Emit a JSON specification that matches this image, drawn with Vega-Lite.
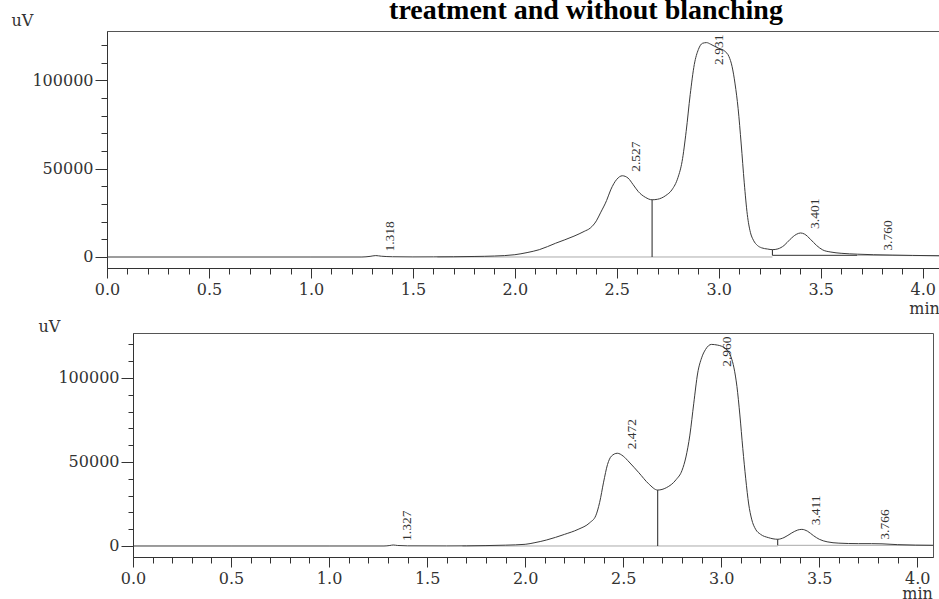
{
  "$schema": "https://vega.github.io/schema/vega-lite/v6.json",
  "padding": {"left": 10, "top": -4, "right": 0, "bottom": 0},
  "background": "white",
  "datasets": {
    "traceA": [
      {"t": 0.0, "v": 0}, {"t": 0.5, "v": 0}, {"t": 1.0, "v": 0}, {"t": 1.25, "v": 0},
      {"t": 1.29, "v": 350}, {"t": 1.318, "v": 800}, {"t": 1.345, "v": 450}, {"t": 1.4, "v": 150},
      {"t": 1.5, "v": 50}, {"t": 1.6, "v": 80}, {"t": 1.7, "v": 150}, {"t": 1.8, "v": 300},
      {"t": 1.9, "v": 550}, {"t": 2.0, "v": 1300}, {"t": 2.06, "v": 2500}, {"t": 2.12, "v": 4150},
      {"t": 2.2, "v": 7800}, {"t": 2.29, "v": 11800}, {"t": 2.34, "v": 14500}, {"t": 2.37, "v": 16400},
      {"t": 2.4, "v": 20500}, {"t": 2.42, "v": 25000}, {"t": 2.45, "v": 32000}, {"t": 2.47, "v": 38000},
      {"t": 2.5, "v": 44000}, {"t": 2.527, "v": 46000}, {"t": 2.555, "v": 44700}, {"t": 2.58, "v": 41000},
      {"t": 2.605, "v": 37100}, {"t": 2.64, "v": 33800}, {"t": 2.673, "v": 32400}, {"t": 2.70, "v": 32700},
      {"t": 2.74, "v": 34800}, {"t": 2.77, "v": 38000}, {"t": 2.80, "v": 45000}, {"t": 2.82, "v": 54000},
      {"t": 2.84, "v": 71000}, {"t": 2.86, "v": 92000}, {"t": 2.88, "v": 109000}, {"t": 2.90, "v": 117500},
      {"t": 2.92, "v": 121000}, {"t": 2.94, "v": 121400}, {"t": 2.96, "v": 120500}, {"t": 2.98, "v": 119300},
      {"t": 3.0, "v": 118200}, {"t": 3.03, "v": 116500}, {"t": 3.05, "v": 113500}, {"t": 3.065, "v": 108000},
      {"t": 3.08, "v": 98000}, {"t": 3.095, "v": 84000}, {"t": 3.11, "v": 64000}, {"t": 3.125, "v": 42000},
      {"t": 3.14, "v": 24000}, {"t": 3.155, "v": 14000}, {"t": 3.17, "v": 9500}, {"t": 3.19, "v": 6500},
      {"t": 3.21, "v": 5200}, {"t": 3.24, "v": 4500}, {"t": 3.263, "v": 4150}, {"t": 3.29, "v": 4600},
      {"t": 3.32, "v": 6500}, {"t": 3.35, "v": 10000}, {"t": 3.38, "v": 12800}, {"t": 3.401, "v": 13600},
      {"t": 3.42, "v": 13000}, {"t": 3.45, "v": 10000}, {"t": 3.48, "v": 6500}, {"t": 3.51, "v": 4000},
      {"t": 3.55, "v": 2800}, {"t": 3.6, "v": 2100}, {"t": 3.68, "v": 1600}, {"t": 3.76, "v": 1300},
      {"t": 3.85, "v": 1100}, {"t": 3.95, "v": 900}, {"t": 4.08, "v": 700}
    ],
    "traceB": [
      {"t": 0.0, "v": 0}, {"t": 0.5, "v": 0}, {"t": 1.0, "v": 0}, {"t": 1.28, "v": 0},
      {"t": 1.31, "v": 300}, {"t": 1.327, "v": 600}, {"t": 1.35, "v": 300}, {"t": 1.4, "v": 100},
      {"t": 1.6, "v": 50}, {"t": 1.7, "v": 100}, {"t": 1.8, "v": 250}, {"t": 1.9, "v": 500},
      {"t": 2.0, "v": 1000}, {"t": 2.05, "v": 2000}, {"t": 2.11, "v": 3600}, {"t": 2.2, "v": 6900},
      {"t": 2.27, "v": 9900}, {"t": 2.33, "v": 13900}, {"t": 2.36, "v": 18000}, {"t": 2.38, "v": 26000},
      {"t": 2.40, "v": 38000}, {"t": 2.42, "v": 48500}, {"t": 2.44, "v": 53500}, {"t": 2.47, "v": 55200},
      {"t": 2.50, "v": 53500}, {"t": 2.53, "v": 50000}, {"t": 2.58, "v": 43600}, {"t": 2.63, "v": 37000},
      {"t": 2.676, "v": 33300}, {"t": 2.72, "v": 34700}, {"t": 2.77, "v": 39500}, {"t": 2.80, "v": 45000},
      {"t": 2.82, "v": 53000}, {"t": 2.84, "v": 66000}, {"t": 2.86, "v": 85000}, {"t": 2.88, "v": 103000},
      {"t": 2.90, "v": 112000}, {"t": 2.92, "v": 117000}, {"t": 2.95, "v": 120000}, {"t": 2.98, "v": 119600},
      {"t": 3.0, "v": 119000}, {"t": 3.03, "v": 116500}, {"t": 3.05, "v": 112500}, {"t": 3.065, "v": 106000},
      {"t": 3.08, "v": 95000}, {"t": 3.095, "v": 78000}, {"t": 3.11, "v": 58000}, {"t": 3.125, "v": 40000},
      {"t": 3.14, "v": 25000}, {"t": 3.155, "v": 16000}, {"t": 3.175, "v": 10000}, {"t": 3.2, "v": 7000},
      {"t": 3.24, "v": 5000}, {"t": 3.288, "v": 4000}, {"t": 3.32, "v": 5000}, {"t": 3.36, "v": 7800},
      {"t": 3.39, "v": 9500}, {"t": 3.411, "v": 9900}, {"t": 3.44, "v": 8800}, {"t": 3.47, "v": 6200},
      {"t": 3.5, "v": 4000}, {"t": 3.54, "v": 2500}, {"t": 3.6, "v": 1700}, {"t": 3.7, "v": 1400},
      {"t": 3.766, "v": 1400}, {"t": 3.82, "v": 1300}, {"t": 3.9, "v": 800}, {"t": 4.08, "v": 400}
    ],
    "segA": [
      {"kind": "base", "t": 1.62, "v": 0, "t2": 3.263, "v2": 0},
      {"kind": "seg", "t": 3.263, "v": 950, "t2": 3.68, "v2": 950},
      {"kind": "base", "t": 3.68, "v": 950, "t2": 4.08, "v2": 700},
      {"kind": "drop", "t": 2.673, "v": 0, "t2": 2.673, "v2": 32400},
      {"kind": "drop", "t": 3.263, "v": 950, "t2": 3.263, "v2": 4150}
    ],
    "segB": [
      {"kind": "base", "t": 1.68, "v": 0, "t2": 3.288, "v2": 0},
      {"kind": "base", "t": 3.288, "v": 400, "t2": 4.08, "v2": 400},
      {"kind": "drop", "t": 2.676, "v": 0, "t2": 2.676, "v2": 33300},
      {"kind": "drop", "t": 3.288, "v": 400, "t2": 3.288, "v2": 4000}
    ],
    "labelsA": [
      {"label": "1.318", "t": 1.318, "v": 800, "place": "above"},
      {"label": "2.527", "t": 2.527, "v": 46000, "place": "above"},
      {"label": "2.931", "t": 2.931, "v": 121400, "place": "inside"},
      {"label": "3.401", "t": 3.401, "v": 13600, "place": "above"},
      {"label": "3.760", "t": 3.76, "v": 1300, "place": "above"}
    ],
    "labelsB": [
      {"label": "1.327", "t": 1.327, "v": 600, "place": "above"},
      {"label": "2.472", "t": 2.472, "v": 55200, "place": "above"},
      {"label": "2.960", "t": 2.96, "v": 120000, "place": "inside"},
      {"label": "3.411", "t": 3.411, "v": 9900, "place": "above"},
      {"label": "3.766", "t": 3.766, "v": 1400, "place": "above"}
    ]
  },
  "spacing": 65,
  "bounds": "flush",
  "vconcat": [
    {
      "width": 832,
      "height": 237,
      "title": {"text": "treatment and without blanching", "anchor": "middle", "frame": "group", "dx": 63, "offset": -35, "baseline": "alphabetic", "font": "Liberation Serif", "fontSize": 28, "fontWeight": "bold", "color": "#000"},
      "encoding": {
        "x": {"field": "t", "type": "quantitative", "scale": {"domain": [0, 4.08], "nice": false, "zero": false},
          "axis": {"title": "min", "values": [0,0.1,0.2,0.3,0.4,0.5,0.6,0.7,0.8,0.9,1,1.1,1.2,1.3,1.4,1.5,1.6,1.7,1.8,1.9,2,2.1,2.2,2.3,2.4,2.5,2.6,2.7,2.8,2.9,3,3.1,3.2,3.3,3.4,3.5,3.6,3.7,3.8,3.9,4],
            "labelExpr": "round(datum.value*10) % 5 == 0 ? format(datum.value, '.1f') : ''",
            "tickSize": {"condition": {"test": "round(datum.value*10) % 5 == 0", "value": 10}, "value": 6},
            "labelPadding": 3, "labelFlush": false, "labelOverlap": false,
            "titleX": 817, "titleY": 45, "titleAlign": "center", "titleBaseline": "alphabetic"}},
        "y": {"field": "v", "type": "quantitative", "scale": {"domain": [-6229, 127973], "nice": false, "zero": false},
          "axis": {"title": "uV", "values": [0,10000,20000,30000,40000,50000,60000,70000,80000,90000,100000,110000,120000],
            "labelExpr": "datum.value % 50000 == 0 ? format(datum.value, 'd') : ''",
            "tickSize": {"condition": {"test": "datum.value % 50000 == 0", "value": 12}, "value": 6},
            "labelPadding": 2, "labelFlush": false, "labelOverlap": false,
            "titleAngle": 0, "titleAlign": "left", "titleBaseline": "alphabetic", "titleX": -96, "titleY": -6}}
      },
      "layer": [
        {"data": {"name": "segA"}, "mark": {"type": "rule", "strokeWidth": 1},
          "encoding": {"x2": {"field": "t2"}, "y2": {"field": "v2"},
            "color": {"field": "kind", "type": "nominal", "scale": {"domain": ["base", "seg", "drop"], "range": ["#aaaaaa", "#333333", "#222222"]}, "legend": null}}},
        {"data": {"name": "traceA"}, "mark": {"type": "line", "color": "#3a3a3a", "strokeWidth": 1, "interpolate": "monotone"}},
        {"data": {"name": "labelsA"}, "transform": [{"filter": "datum.place == 'above'"}],
          "mark": {"type": "text", "angle": 270, "align": "left", "baseline": "middle", "dx": 4, "dy": 14, "font": "Liberation Serif", "fontSize": 13.5, "color": "#333"},
          "encoding": {"text": {"field": "label"}}},
        {"data": {"name": "labelsA"}, "transform": [{"filter": "datum.place == 'inside'"}],
          "mark": {"type": "text", "angle": 270, "align": "right", "baseline": "middle", "dx": 8, "dy": 14, "font": "Liberation Serif", "fontSize": 13.5, "color": "#333"},
          "encoding": {"text": {"field": "label"}}}
      ]
    },
    {
      "spacing": 25,
      "bounds": "flush",
      "hconcat": [
        {"width": 1, "height": 224, "data": {"values": []}, "mark": {"type": "point", "opacity": 0}, "encoding": {}, "view": {"stroke": null}},
        {
          "width": 800,
          "height": 224,
          "encoding": {
            "x": {"field": "t", "type": "quantitative", "scale": {"domain": [0, 4.08], "nice": false, "zero": false},
              "axis": {"title": "min", "values": [0,0.1,0.2,0.3,0.4,0.5,0.6,0.7,0.8,0.9,1,1.1,1.2,1.3,1.4,1.5,1.6,1.7,1.8,1.9,2,2.1,2.2,2.3,2.4,2.5,2.6,2.7,2.8,2.9,3,3.1,3.2,3.3,3.4,3.5,3.6,3.7,3.8,3.9,4],
                "labelExpr": "round(datum.value*10) % 5 == 0 ? format(datum.value, '.1f') : ''",
                "tickSize": {"condition": {"test": "round(datum.value*10) % 5 == 0", "value": 10}, "value": 6},
                "labelPadding": 3, "labelFlush": false, "labelOverlap": false,
                "titleX": 784, "titleY": 41, "titleAlign": "center", "titleBaseline": "alphabetic"}},
            "y": {"field": "v", "type": "quantitative", "scale": {"domain": [-6548, 126785], "nice": false, "zero": false},
              "axis": {"title": "uV", "values": [0,10000,20000,30000,40000,50000,60000,70000,80000,90000,100000,110000,120000],
                "labelExpr": "datum.value % 50000 == 0 ? format(datum.value, 'd') : ''",
                "tickSize": {"condition": {"test": "datum.value % 50000 == 0", "value": 12}, "value": 5},
                "labelPadding": 2, "labelFlush": false, "labelOverlap": false,
                "titleAngle": 0, "titleAlign": "left", "titleBaseline": "alphabetic", "titleX": -95, "titleY": -2}}
          },
          "layer": [
            {"data": {"name": "segB"}, "mark": {"type": "rule", "strokeWidth": 1},
              "encoding": {"x2": {"field": "t2"}, "y2": {"field": "v2"},
                "color": {"field": "kind", "type": "nominal", "scale": {"domain": ["base", "seg", "drop"], "range": ["#aaaaaa", "#333333", "#222222"]}, "legend": null}}},
            {"data": {"name": "traceB"}, "mark": {"type": "line", "color": "#3a3a3a", "strokeWidth": 1, "interpolate": "monotone"}},
            {"data": {"name": "labelsB"}, "transform": [{"filter": "datum.place == 'above'"}],
              "mark": {"type": "text", "angle": 270, "align": "left", "baseline": "middle", "dx": 4, "dy": 14, "font": "Liberation Serif", "fontSize": 13.5, "color": "#333"},
              "encoding": {"text": {"field": "label"}}},
            {"data": {"name": "labelsB"}, "transform": [{"filter": "datum.place == 'inside'"}],
              "mark": {"type": "text", "angle": 270, "align": "right", "baseline": "middle", "dx": 8, "dy": 14, "font": "Liberation Serif", "fontSize": 13.5, "color": "#333"},
              "encoding": {"text": {"field": "label"}}}
          ]
        }
      ]
    }
  ],
  "config": {
    "view": {"stroke": "#555", "strokeWidth": 1},
    "axis": {"grid": false, "labelFont": "DejaVu Serif", "labelFontSize": 16, "labelColor": "#333", "titleFont": "DejaVu Serif", "titleFontSize": 16, "titleFontWeight": "normal", "titleColor": "#333", "domainColor": "#333", "tickColor": "#333"}
  }
}
